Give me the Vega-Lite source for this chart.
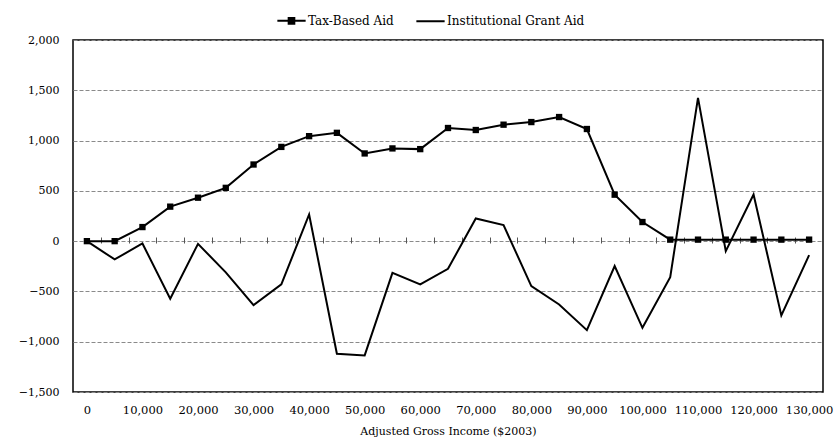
{
  "$schema": "https://vega.github.io/schema/vega-lite/v6.json",
  "width": 750,
  "height": 352,
  "autosize": {"type": "none"},
  "padding": {"left": 73, "top": 40, "right": 15, "bottom": 54},
  "background": "white",
  "config": {
    "font": "DejaVu Serif",
    "view": {"stroke": "black", "strokeWidth": 1.5},
    "axis": {"labelFont": "DejaVu Serif", "titleFont": "DejaVu Serif", "labelColor": "black", "titleColor": "black", "labelFontSize": 11, "titleFontSize": 11, "titleFontWeight": "normal"}
  },
  "data": {
    "values": [
      {"income": 0, "series": "Tax-Based Aid", "aid": 0},
      {"income": 5000, "series": "Tax-Based Aid", "aid": 0},
      {"income": 10000, "series": "Tax-Based Aid", "aid": 140},
      {"income": 15000, "series": "Tax-Based Aid", "aid": 343},
      {"income": 20000, "series": "Tax-Based Aid", "aid": 432},
      {"income": 25000, "series": "Tax-Based Aid", "aid": 530},
      {"income": 30000, "series": "Tax-Based Aid", "aid": 762},
      {"income": 35000, "series": "Tax-Based Aid", "aid": 937},
      {"income": 40000, "series": "Tax-Based Aid", "aid": 1044},
      {"income": 45000, "series": "Tax-Based Aid", "aid": 1077},
      {"income": 50000, "series": "Tax-Based Aid", "aid": 872},
      {"income": 55000, "series": "Tax-Based Aid", "aid": 922},
      {"income": 60000, "series": "Tax-Based Aid", "aid": 915},
      {"income": 65000, "series": "Tax-Based Aid", "aid": 1125},
      {"income": 70000, "series": "Tax-Based Aid", "aid": 1105},
      {"income": 75000, "series": "Tax-Based Aid", "aid": 1158},
      {"income": 80000, "series": "Tax-Based Aid", "aid": 1184},
      {"income": 85000, "series": "Tax-Based Aid", "aid": 1234},
      {"income": 90000, "series": "Tax-Based Aid", "aid": 1115},
      {"income": 95000, "series": "Tax-Based Aid", "aid": 462},
      {"income": 100000, "series": "Tax-Based Aid", "aid": 190},
      {"income": 105000, "series": "Tax-Based Aid", "aid": 15},
      {"income": 110000, "series": "Tax-Based Aid", "aid": 15},
      {"income": 115000, "series": "Tax-Based Aid", "aid": 15},
      {"income": 120000, "series": "Tax-Based Aid", "aid": 15},
      {"income": 125000, "series": "Tax-Based Aid", "aid": 15},
      {"income": 130000, "series": "Tax-Based Aid", "aid": 15},
      {"income": 0, "series": "Institutional Grant Aid", "aid": 0},
      {"income": 5000, "series": "Institutional Grant Aid", "aid": -182},
      {"income": 10000, "series": "Institutional Grant Aid", "aid": -23},
      {"income": 15000, "series": "Institutional Grant Aid", "aid": -573},
      {"income": 20000, "series": "Institutional Grant Aid", "aid": -27},
      {"income": 25000, "series": "Institutional Grant Aid", "aid": -310},
      {"income": 30000, "series": "Institutional Grant Aid", "aid": -636},
      {"income": 35000, "series": "Institutional Grant Aid", "aid": -430},
      {"income": 40000, "series": "Institutional Grant Aid", "aid": 265},
      {"income": 45000, "series": "Institutional Grant Aid", "aid": -1120},
      {"income": 50000, "series": "Institutional Grant Aid", "aid": -1136},
      {"income": 55000, "series": "Institutional Grant Aid", "aid": -315},
      {"income": 60000, "series": "Institutional Grant Aid", "aid": -430},
      {"income": 65000, "series": "Institutional Grant Aid", "aid": -275},
      {"income": 70000, "series": "Institutional Grant Aid", "aid": 225},
      {"income": 75000, "series": "Institutional Grant Aid", "aid": 160},
      {"income": 80000, "series": "Institutional Grant Aid", "aid": -447},
      {"income": 85000, "series": "Institutional Grant Aid", "aid": -630},
      {"income": 90000, "series": "Institutional Grant Aid", "aid": -885},
      {"income": 95000, "series": "Institutional Grant Aid", "aid": -248},
      {"income": 100000, "series": "Institutional Grant Aid", "aid": -862},
      {"income": 105000, "series": "Institutional Grant Aid", "aid": -358},
      {"income": 110000, "series": "Institutional Grant Aid", "aid": 1425},
      {"income": 115000, "series": "Institutional Grant Aid", "aid": -100},
      {"income": 120000, "series": "Institutional Grant Aid", "aid": 464},
      {"income": 125000, "series": "Institutional Grant Aid", "aid": -739},
      {"income": 130000, "series": "Institutional Grant Aid", "aid": -139}
    ]
  },
  "encoding": {
    "y": {
      "field": "aid", "type": "quantitative",
      "scale": {"domain": [-1500, 2000], "nice": false},
      "axis": {"values": [-1500, -1000, -500, 0, 500, 1000, 1500, 2000], "format": ",.0f", "grid": true, "gridColor": "#8a8a8a", "gridDash": [4, 2], "gridWidth": 1, "ticks": false, "domain": false, "labelPadding": 14, "title": null}
    }
  },
  "resolve": {"axis": {"x": "independent"}},
  "layer": [
    {
      "mark": {"type": "line", "strokeWidth": 2, "color": "black"},
      "encoding": {
        "x": {
          "field": "income", "type": "quantitative",
          "scale": {"domain": [-2500, 132500], "nice": false, "zero": false},
          "axis": {"orient": "bottom", "values": [0, 10000, 20000, 30000, 40000, 50000, 60000, 70000, 80000, 90000, 100000, 110000, 120000, 130000], "format": ",.0f", "grid": false, "ticks": false, "domain": false, "labelPadding": 12, "labelFontSize": 11.5, "title": "Adjusted Gross Income ($2003)", "titlePadding": 10, "labelFlush": false}
        },
        "detail": {"field": "series", "type": "nominal"}
      }
    },
    {
      "transform": [{"filter": "datum.series === 'Tax-Based Aid'"}],
      "mark": {"type": "point", "shape": "square", "filled": true, "color": "black", "size": 40, "opacity": 1},
      "encoding": {
        "x": {
          "field": "income", "type": "quantitative",
          "scale": {"domain": [-2500, 132500], "nice": false, "zero": false},
          "axis": {"orient": "bottom", "offset": -155, "values": [2500, 7500, 12500, 17500, 22500, 27500, 32500, 37500, 42500, 47500, 52500, 57500, 62500, 67500, 72500, 77500, 82500, 87500, 92500, 97500, 102500, 107500, 112500, 117500, 122500, 127500], "labels": false, "ticks": true, "tickSize": 6, "tickColor": "#555", "tickWidth": 1, "domain": false, "grid": false, "title": null}
        }
      }
    },
    {
      "transform": [{"filter": "datum.aid > 100000"}],
      "mark": {"type": "point", "filled": false, "color": "black", "strokeWidth": 2},
      "encoding": {
        "x": {"field": "income", "type": "quantitative", "scale": {"domain": [-2500, 132500], "nice": false, "zero": false}, "axis": null},
        "shape": {
          "field": "series", "type": "nominal",
          "scale": {"domain": ["Tax-Based Aid", "Institutional Grant Aid"], "range": ["M-1,0H1M-0.2,-0.2H0.2V0.2H-0.2ZM-0.2,-0.1H0.2M-0.2,0.1H0.2M0,-0.2V0.2", "M-1,0H1"]},
          "legend": {"title": null, "orient": "none", "legendX": 203, "legendY": -35, "direction": "horizontal", "symbolSize": 800, "symbolOpacity": 1, "symbolStrokeColor": "black", "symbolStrokeWidth": 2, "labelFont": "DejaVu Serif", "labelFontSize": 12, "labelColor": "black", "columnPadding": 18, "labelOffset": 1}
        }
      }
    }
  ]
}
